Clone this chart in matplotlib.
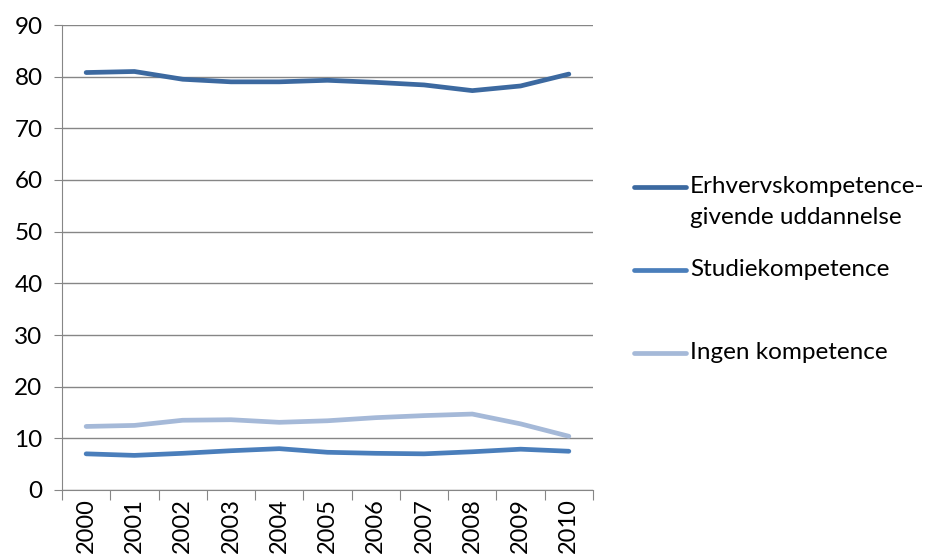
import matplotlib.pyplot as plt
from matplotlib.lines import Line2D

years = ["2000", "2001", "2002", "2003", "2004", "2005", "2006", "2007", "2008", "2009", "2010"]
erhverv = [80.8, 81.0, 79.5, 79.0, 79.0, 79.3, 78.9, 78.4, 77.3, 78.2, 80.5]
studie = [7.0, 6.7, 7.1, 7.6, 8.0, 7.3, 7.1, 7.0, 7.4, 7.9, 7.5]
ingen = [12.3, 12.5, 13.5, 13.6, 13.1, 13.4, 14.0, 14.4, 14.7, 12.8, 10.4]
labels = ["Erhvervskompetence-\ngivende uddannelse", "Studiekompetence", "Ingen kompetence"]
colors = ["#3c69a0", "#4a7ebb", "#a5b9d8"]

plt.rcParams['font.family'] = ['Lato', 'DejaVu Sans']
fs = 17.5

fig = plt.figure(figsize=(9.28, 5.57), dpi=100)
ax = fig.add_axes([62/928, 1-490/557, (593-62)/928, (490-25)/557])

x = list(range(len(years)))
series = [erhverv, studie, ingen]
for vals, c in zip(series, colors):
    ax.plot(x, vals, color=c, linewidth=3.4, solid_capstyle='round', zorder=3)

ax.set_xlim(-0.5, len(years)-0.5)
ax.set_ylim(0, 90)
ax.set_yticks(range(0, 91, 10))
ax.yaxis.grid(True, color="#868686", linewidth=1)
ax.set_axisbelow(True)
for s in ["top", "right"]:
    ax.spines[s].set_visible(False)
for s in ["left", "bottom"]:
    ax.spines[s].set_color("#868686")
ax.tick_params(axis='y', length=6, color="#868686", labelsize=fs, pad=8)

# category boundary ticks, labels centred in the categories
ax.set_xticks([i - 0.5 for i in range(len(years)+1)])
ax.set_xticklabels([])
ax.tick_params(axis='x', length=7, color="#868686")
ax.set_xticks(x, minor=True)
ax.set_xticklabels(years, minor=True, rotation=90, fontsize=17, va='top')
ax.tick_params(axis='x', which='minor', length=0, pad=6)

# legend, laid out like the spreadsheet version
leg_y = [187, 270, 353]
for lab, c, yy in zip(labels, colors, leg_y):
    yf = 1 - yy/557
    fig.add_artist(Line2D([634/928, 686/928], [yf, yf], color=c, linewidth=3.4,
                          solid_capstyle='round', transform=fig.transFigure))
    fig.text(690/928, yf + 0.019, lab, fontsize=fs, va='top', ha='left', linespacing=1.55)

fig.savefig("out.png", dpi=100)
